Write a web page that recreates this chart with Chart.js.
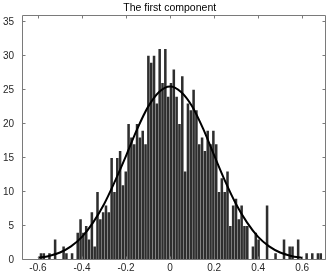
<!DOCTYPE html>
<html>
<head>
<meta charset="utf-8">
<script src="https://cdn.jsdelivr.net/npm/chart.js@4"></script>
<style>
  html, body { margin: 0; padding: 0; background: #fff; }
  #c { display: block; }
</style>
</head>
<body>
<canvas id="c" width="327" height="275"></canvas>
<script>
// ---- data ----
const titleText = 'The first component';

// histogram bin centres (100 bins)
const binCenters = [
  -0.5863,-0.5735,-0.5606,-0.5478,-0.5350,-0.5221,-0.5093,-0.4965,-0.4836,-0.4708,
  -0.4579,-0.4451,-0.4323,-0.4194,-0.4066,-0.3938,-0.3809,-0.3681,-0.3552,-0.3424,
  -0.3296,-0.3167,-0.3039,-0.2911,-0.2782,-0.2654,-0.2526,-0.2397,-0.2269,-0.2140,
  -0.2012,-0.1884,-0.1755,-0.1627,-0.1499,-0.1370,-0.1242,-0.1114,-0.0985,-0.0857,
  -0.0728,-0.0600,-0.0472,-0.0343,-0.0215,-0.0087, 0.0042, 0.0170, 0.0298, 0.0427,
   0.0555, 0.0683, 0.0812, 0.0940, 0.1069, 0.1197, 0.1325, 0.1454, 0.1582, 0.1710,
   0.1839, 0.1967, 0.2096, 0.2224, 0.2352, 0.2481, 0.2609, 0.2737, 0.2866, 0.2994,
   0.3122, 0.3251, 0.3379, 0.3508, 0.3636, 0.3764, 0.3893, 0.4021, 0.4149, 0.4278,
   0.4406, 0.4534, 0.4663, 0.4791, 0.4920, 0.5048, 0.5176, 0.5305, 0.5433, 0.5561,
   0.5690, 0.5818, 0.5947, 0.6075, 0.6203, 0.6332, 0.6460, 0.6588, 0.6717, 0.6845
];

// counts per bin
const binCounts = [
   1, 1, 0, 1, 0, 3, 0, 0, 2, 1,
   0, 1, 0, 4, 6, 4, 5, 3, 7, 2,
  10, 6, 7, 8, 7,15,10,15,16,11,
  13,20,18,17,20,18,19,17,30,29,
  30,23,31,26,31,24,26,28,24,20,
  27,13,23,22,25,22,17,18,16,19,
  17,19,17,10,12,10,13, 5, 8, 9,
   6, 8, 5, 5, 0, 2, 4, 3, 0, 0,
   8, 0, 0, 1, 0, 0, 3, 0, 2, 2,
   0, 3, 0, 0, 1, 0, 1, 0, 1, 1
];

// fitted curve, points
const curveX = [-0.60,-0.55,-0.50,-0.45,-0.40,-0.35,-0.30,-0.25,-0.20,-0.15,-0.10,-0.05,0.00,
                 0.05, 0.10, 0.15, 0.20, 0.25, 0.30, 0.35, 0.40, 0.45, 0.50, 0.55, 0.60];
const curveY = [0.3, 0.6, 1.1, 2.0, 3.4, 5.5, 8.2, 11.6, 15.3, 19.2, 22.5, 24.7, 25.5,
                24.7, 22.6, 19.3, 15.4, 11.6, 8.2, 5.5, 3.4, 2.0, 1.1, 0.6, 0.3];

// axes
const xMin = -0.668, xMax = 0.706;
const yMin = 0, yMax = 36;
const xTicks = [-0.6, -0.4, -0.2, 0, 0.2, 0.4, 0.6];
const xTickLabels = ['-0.6', '-0.4', '-0.2', '0', '0.2', '0.4', '0.6'];
const yTicks = [0, 5, 10, 15, 20, 25, 30, 35];
const yTickLabels = ['0', '5', '10', '15', '20', '25', '30', '35'];

// ---- chart ----
const FONT = "'Liberation Sans', Arial, Helvetica, sans-serif";
const LABEL_COLOR = '#262626';
const FRAME_COLOR = '#7a7a7a';

const barPoints = binCenters.map((x, i) => ({ x: x, y: binCounts[i] }));
const curvePoints = curveX.map((x, i) => ({ x: x, y: curveY[i] }));

const frameAndTicks = {
  id: 'frameAndTicks',
  afterDatasetsDraw(chart) {
    const ctx = chart.ctx;
    const a = chart.chartArea;
    const xs = chart.scales.x, ys = chart.scales.y;
    const L = Math.round(a.left) - 0.5, R = Math.round(a.right) - 0.5;
    const T = Math.round(a.top) + 0.5, B = Math.round(a.bottom) - 0.5;
    const tl = 3;
    ctx.save();
    ctx.strokeStyle = FRAME_COLOR;
    ctx.lineWidth = 1;
    ctx.beginPath();
    ctx.rect(L, T, R - L, B - T);
    xTicks.forEach(v => {
      const px = Math.round(xs.getPixelForValue(v)) + 0.5;
      ctx.moveTo(px, B); ctx.lineTo(px, B - tl);
      ctx.moveTo(px, T); ctx.lineTo(px, T + tl);
    });
    yTicks.forEach(v => {
      const py = Math.round(ys.getPixelForValue(v)) - 0.5;
      ctx.moveTo(L, py); ctx.lineTo(L + tl, py);
      ctx.moveTo(R, py); ctx.lineTo(R - tl, py);
    });
    ctx.stroke();
    ctx.restore();
  }
};

new Chart(document.getElementById('c'), {
  data: {
    datasets: [
      {
        type: 'line',
        data: curvePoints,
        borderColor: '#000',
        borderWidth: 2,
        pointRadius: 0,
        fill: false,
        cubicInterpolationMode: 'monotone',
        order: 0
      },
      {
        type: 'bar',
        data: barPoints,
        backgroundColor: '#2e2e2e',
        borderWidth: 0,
        barPercentage: 0.9,
        categoryPercentage: 1.0,
        order: 1
      }
    ]
  },
  options: {
    responsive: false,
    animation: false,
    devicePixelRatio: 1,
    layout: { padding: { left: 14, right: 1.5, top: 0, bottom: 0 } },
    plugins: {
      legend: { display: false },
      tooltip: { enabled: false },
      title: {
        display: true,
        text: titleText,
        color: '#000',
        font: { family: FONT, size: 10.5, weight: 'normal', lineHeight: 1.2 },
        padding: { top: 1, bottom: 0.4 }
      }
    },
    scales: {
      x: {
        type: 'linear',
        min: xMin, max: xMax,
        offset: false,
        grid: { display: false, drawTicks: false },
        border: { display: false },
        afterBuildTicks: s => { s.ticks = xTicks.map(v => ({ value: v })); },
        afterFit: s => { s.height = 15; },
        ticks: {
          color: LABEL_COLOR,
          font: { family: FONT, size: 10 },
          padding: 2,
          maxRotation: 0,
          autoSkip: false,
          callback: v => { const k = xTicks.indexOf(v); return k >= 0 ? xTickLabels[k] : ''; }
        }
      },
      y: {
        type: 'linear',
        min: yMin, max: yMax,
        grid: { display: false, drawTicks: false },
        border: { display: false },
        afterBuildTicks: s => { s.ticks = yTicks.map(v => ({ value: v })); },
        afterFit: s => {
          s.width = 9;
          // let the tick labels extend into the layout padding on the left
          s._computeLabelArea = function () { return undefined; };
        },
        ticks: {
          color: LABEL_COLOR,
          font: { family: FONT, size: 10 },
          padding: 9,
          autoSkip: false,
          callback: v => { const k = yTicks.indexOf(v); return k >= 0 ? yTickLabels[k] : ''; }
        }
      }
    }
  },
  plugins: [frameAndTicks]
});
</script>
</body>
</html>
